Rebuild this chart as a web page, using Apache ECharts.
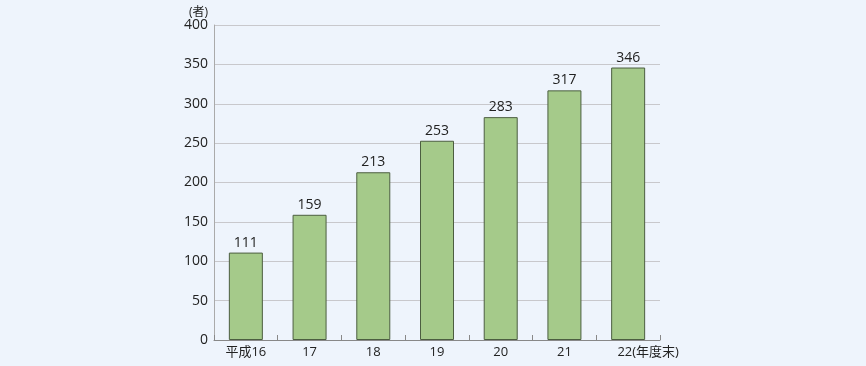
<!DOCTYPE html>
<html><head><meta charset="utf-8">
<script src="https://cdn.jsdelivr.net/npm/echarts@6/dist/echarts.min.js"></script>
<style>html,body{margin:0;padding:0;background:#eef4fc;}#c{width:866px;height:366px;}</style>
</head><body><div id="c"></div>
<script>
const categories = ['平成16', '17', '18', '19', '20', '21', '22(年度末)'];
const values = [111, 159, 213, 253, 283, 317, 346];
const yTicks = [0, 50, 100, 150, 200, 250, 300, 350, 400];
const yUnit = '(者)';

const chart = echarts.init(document.getElementById('c'), null, {renderer: 'canvas'});
const font = '"Open Sans", "Noto Sans CJK JP", sans-serif';
chart.setOption({
  backgroundColor: '#eef4fc',
  animation: false,
  grid: {left: 214, right: 206, top: 25, bottom: 26, containLabel: false},
  xAxis: {
    type: 'category',
    data: categories,
    axisLine: {lineStyle: {color: '#888', width: 1}},
    axisTick: {show: true, inside: true, length: 5, alignWithLabel: false, lineStyle: {color: '#888'}},
    axisLabel: {
      interval: 0, hideOverlap: false,
      color: '#222', fontSize: 13, fontFamily: font, margin: 6,
      formatter: function (v, i) { return i === categories.length - 1 ? '{s|' + v + '}' : v; },
      rich: {s: {color: '#222', fontSize: 13, fontFamily: font, padding: [0, 0, 0, 40]}}
    }
  },
  yAxis: {
    type: 'value',
    min: yTicks[0], max: yTicks[yTicks.length - 1], interval: 50,
    name: yUnit,
    nameLocation: 'end',
    nameGap: 6,
    nameTextStyle: {color: '#222', fontSize: 12, fontFamily: font, align: 'right', padding: [0, 6, 0, 0]},
    axisLine: {show: true, lineStyle: {color: '#aaa'}},
    axisTick: {show: false},
    axisLabel: {color: '#222', fontSize: 14, fontFamily: font, margin: 6},
    splitLine: {lineStyle: {color: '#c8c8cc', width: 1}}
  },
  series: [{
    type: 'bar',
    data: values,
    barWidth: 34,
    itemStyle: {color: '#a5ca8a', borderColor: '#4c5e40', borderWidth: 1},
    label: {show: true, position: 'top', color: '#222', fontSize: 14, fontFamily: font, distance: 3}
  }]
});
</script></body></html>
